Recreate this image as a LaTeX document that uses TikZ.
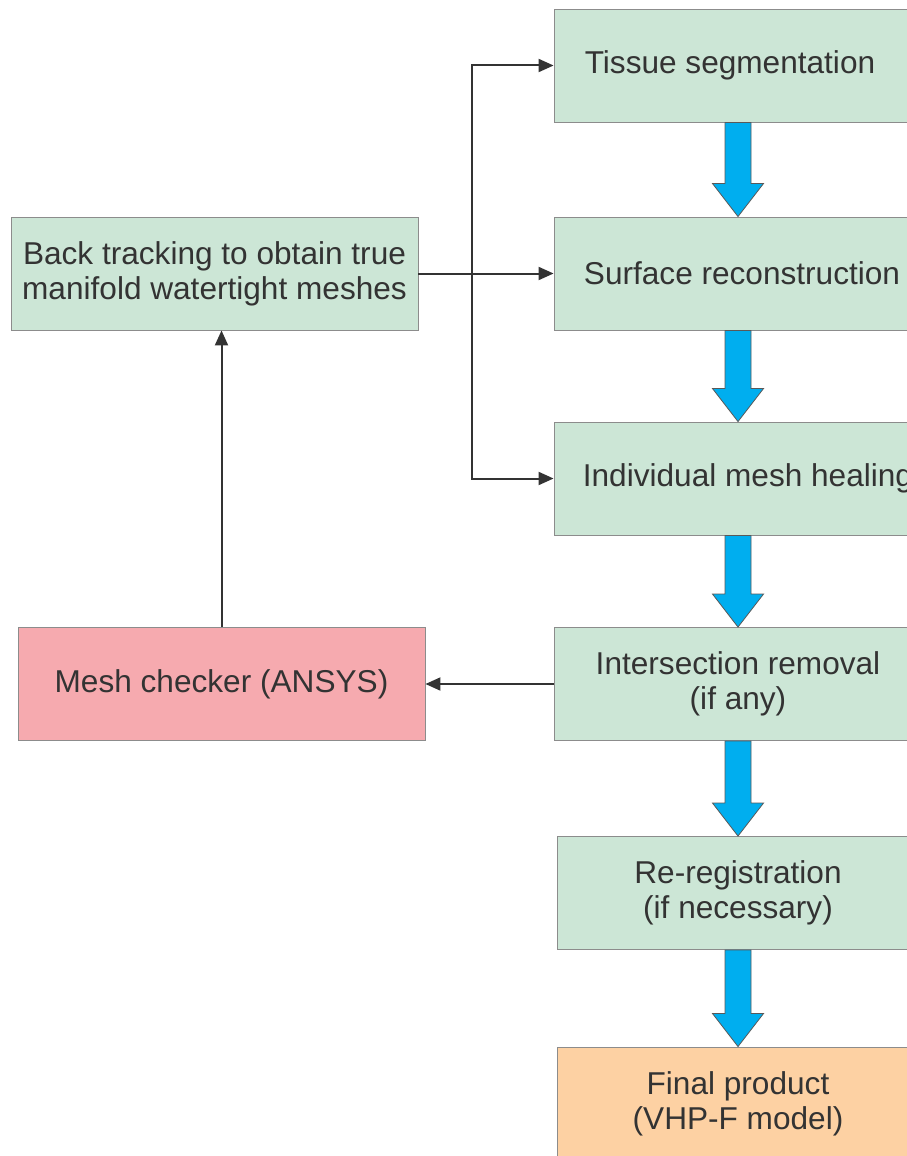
\documentclass[tikz,border=0pt]{standalone}
\usepackage{fontspec}
\setmainfont{Liberation Sans}
\usetikzlibrary{arrows.meta,calc}
\definecolor{boxgreen}{HTML}{CCE6D6}
\definecolor{boxpink}{HTML}{F6AAAF}
\definecolor{boxorange}{HTML}{FDD1A3}
\definecolor{boxline}{HTML}{8C8C8C}
\definecolor{inkgray}{HTML}{333333}
\definecolor{flowblue}{HTML}{00AEEF}
\tikzset{
  stepbox/.style={draw=boxline, line width=0.9pt, fill=boxgreen, minimum height=113pt,
    inner sep=0pt, align=center, text=inkgray,
    font=\fontsize{31.6}{35}\selectfont},
  rightcol/.style={stepbox, minimum width=368pt},
  % move a single-line label sideways inside its box
  nudge/.style={execute at begin node={\hspace*{#1}}},
  link/.style={draw=inkgray, line width=2pt, -{Triangle[length=15pt,width=13pt]}},
  flow/.style={fill=flowblue, draw=black!65, line width=0.8pt, line join=miter},
}
% wide blue arrow from the bottom of one box to the top of the next
\newcommand\flowarrow[2]{%
  \path[flow] let \p1=(#1.south), \p2=(#2.north) in
    ($(\x1-13pt,\y1)$) -- ($(\x1+13pt,\y1)$) -- ($(\x1+13pt,\y2+33pt)$) --
    ($(\x1+25.5pt,\y2+33pt)$) -- (\x1,\y2) -- ($(\x1-25.5pt,\y2+33pt)$) --
    ($(\x1-13pt,\y2+33pt)$) -- cycle;}
\begin{document}
\begin{tikzpicture}[x=1pt,y=-1pt]
\useasboundingbox (0,0) rectangle (907,1156);
\clip (0,0) rectangle (907,1156);

% main pipeline (right column)
\node[rightcol, nudge=-16pt] (seg)   at (738,65.5)  {Tissue segmentation};
\node[rightcol, nudge=8pt]   (surf)  at (738,273.5) {Surface reconstruction};
\node[rightcol, nudge=20pt]  (heal)  at (738,478.5) {Individual mesh healing};
\node[rightcol] (inter) at (738,684)   {Intersection removal\\(if any)};
\node[rightcol, minimum width=362pt] (rereg) at (738,893) {Re-registration\\(if necessary)};
\node[rightcol, minimum width=362pt, fill=boxorange] (final) at (738,1103.5) {Final product\\(VHP-F model)};

% checking loop (left column)
\node[stepbox, minimum width=407pt] (back) at (214.5,273.5) {Back tracking to obtain true\\manifold watertight meshes};
\node[stepbox, minimum width=407pt, fill=boxpink] (check) at (221.5,684) {Mesh checker (ANSYS)};

% blue flow arrows
\flowarrow{seg}{surf}
\flowarrow{surf}{heal}
\flowarrow{heal}{inter}
\flowarrow{inter}{rereg}
\flowarrow{rereg}{final}

% feedback connectors
\coordinate (j) at (472,273.5);
\draw[link] (back.east) -- (surf.west);
\draw[link] (j) |- (seg.west);
\draw[link] (j) |- (heal.west);
\draw[link] (inter.west) -- (check.east);
\draw[link] (check.north) -- (check.north |- back.south);
\end{tikzpicture}
\end{document}
